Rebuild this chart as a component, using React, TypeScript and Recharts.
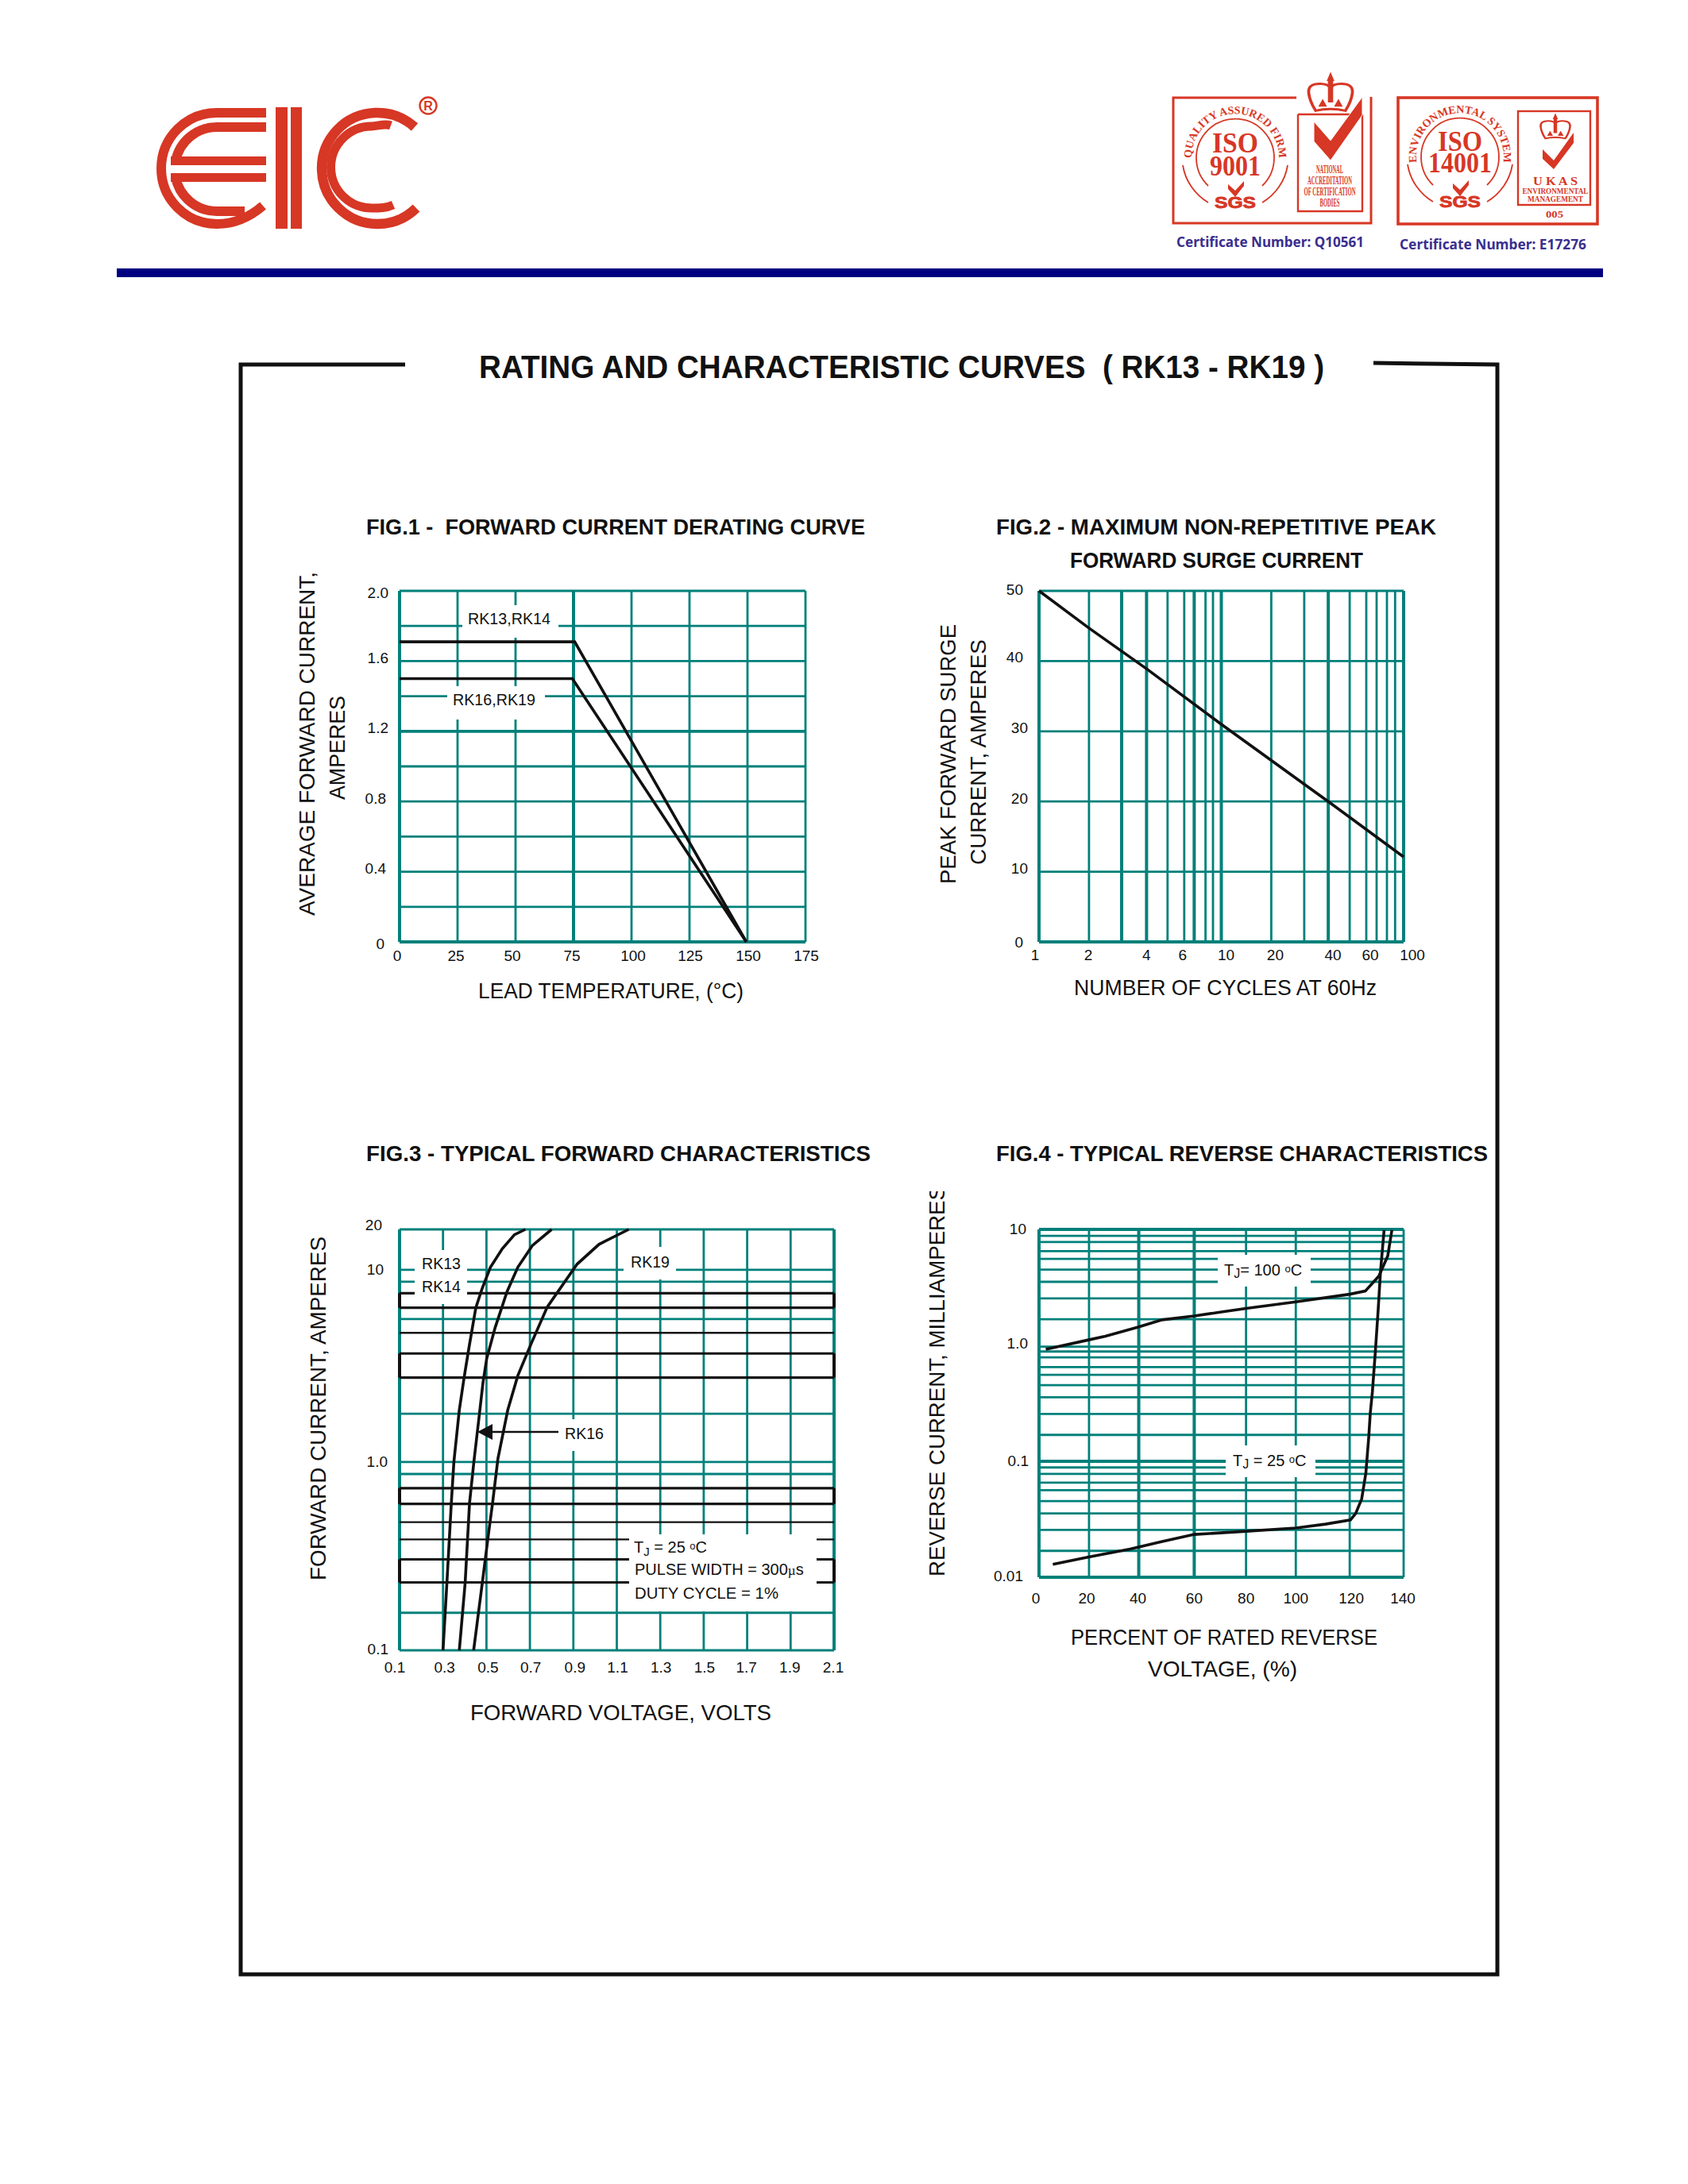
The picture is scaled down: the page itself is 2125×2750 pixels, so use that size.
import React from 'react';
import { LineChart, Line, XAxis, YAxis, ReferenceLine } from 'recharts';

const TEAL = '#00807a';
const RED = '#d73725';
const INK = '#111111';
const NAVY = '#000080';
const SANS = '"Liberation Sans", Arial, sans-serif';
const SERIF = '"Liberation Serif", "Times New Roman", serif';

// FIG.1
const fig1Temps = [0, 25, 50, 75, 100, 125, 150, 175];
const fig1Rows = [0, 0.2, 0.4, 0.6, 0.8, 1.0, 1.2, 1.4, 1.6, 1.8, 2.0];
const fig1AmpTicks = [0, 0.4, 0.8, 1.2, 1.6, 2.0];
const fig1AmpLabels = ['0', '0.4', '0.8', '1.2', '1.6', '2.0'];
const rk13Temps = [0, 75.5, 149.5];
const rk13Amps = [1.71, 1.71, 0];
const rk16Temps = [0, 74.5, 149.5];
const rk16Amps = [1.5, 1.5, 0];

// FIG.2 - the printed paper is not a true log ruling, so columns are read off the picture
const fig2Columns = [1, 1.88, 2.84, 3.89, 5.07, 6.26, 7.1, 8.19, 9, 10, 18.8, 28.5, 38.6, 50.6, 62.4, 71.1, 81, 89.8, 100];
const fig2CycleTicks = [1, 1.88, 3.89, 6.26, 10, 18.8, 38.6, 62.4, 100];
const fig2CycleLabels = ['1', '2', '4', '6', '10', '20', '40', '60', '100'];
const fig2Rows = [0, 10, 20, 30, 40, 50];
const surgeCycles = [1, 1.88, 3.89, 10, 38.6, 100];
const surgeAmps = [50, 44.7, 38.9, 31, 20, 12.1];

// FIG.3 - rows are as ruled on the paper, the top edge is labelled 20
const fig3Volts = [0.1, 0.3, 0.5, 0.7, 0.9, 1.1, 1.3, 1.5, 1.7, 1.9, 2.1];
const fig3TealRows = [0.1, 0.1575, 0.8447, 0.977, 1.752, 5.51, 8.65, 10, 16.3];
const fig3BlackRows = [0.3826, 0.4714, 4.66];
const fig3BlackBandLow = [0.2274, 0.5878, 2.713, 6.32];
const fig3BlackBandHigh = [0.3005, 0.7118, 3.63, 7.53];
const fig3AmpTicks = [0.1, 1, 10, 16.3];
const fig3AmpLabels = ['0.1', '1.0', '10', '20'];
const curve13Volts = [0.3, 0.318, 0.338, 0.35, 0.375, 0.397, 0.419, 0.451, 0.481, 0.518, 0.573, 0.629, 0.679];
const curve13Amps = [0.1, 0.227, 0.588, 0.977, 1.83, 2.71, 3.87, 6.32, 8.02, 10.3, 12.9, 15.3, 16.3];
const curve16Volts = [0.375, 0.402, 0.422, 0.442, 0.464, 0.484, 0.501, 0.54, 0.595, 0.644, 0.711, 0.8];
const curve16Amps = [0.1, 0.227, 0.593, 0.977, 1.61, 2.55, 3.41, 4.97, 7.69, 10.3, 13.4, 16.3];
const curve19Volts = [0.441, 0.481, 0.509, 0.528, 0.553, 0.598, 0.644, 0.707, 0.78, 0.917, 1.018, 1.155];
const curve19Amps = [0.1, 0.227, 0.407, 0.593, 1.02, 1.83, 2.77, 4.12, 6.38, 10.7, 13.6, 16.3];

// FIG.4
const fig4Columns = [0, 19.2, 38.3, 59.6, 79.5, 98.6, 119.3, 140];
const fig4PctLabels = ['0', '20', '40', '60', '80', '100', '120', '140'];
const fig4Rows = [
  0.01, 0.0169, 0.0256, 0.0355, 0.0453, 0.0564, 0.0655, 0.0778, 0.0885, 0.1, 0.169, 0.256, 0.357, 0.453,
  0.557, 0.65, 0.789, 0.885, 0.975, 1.68, 2.54, 3.53, 4.5, 5.57, 6.5, 7.78, 8.79, 10,
];
const fig4CurrentTicks = [0.01, 0.1, 1, 10];
const fig4CurrentLabels = ['0.01', '0.1', '1.0', '10'];
const hotPct = [2.6, 18.7, 25.5, 37.8, 47.3, 59.6, 70.5, 79.5, 98.6, 119.3, 125.3, 130.5, 133.9, 135.5];
const hotCurrent = [0.925, 1.11, 1.2, 1.43, 1.66, 1.79, 1.95, 2.08, 2.37, 2.76, 2.94, 3.96, 5.9, 9.87];
const coldPct = [5.3, 18.7, 35, 47.3, 59.6, 79.5, 98.6, 110, 119.6, 121.6, 123.9, 125.5, 126.6, 127.2, 128, 129.1, 130.2, 131.1, 132.5];
const coldCurrent = [0.0129, 0.0149, 0.0175, 0.0203, 0.0234, 0.0249, 0.0266, 0.0287, 0.0312, 0.0355, 0.0474, 0.0792, 0.161, 0.261, 0.396, 0.857, 1.98, 4.28, 9.87];

const zip = (xs: number[], ys: number[]) => xs.map((x, i) => ({ x, y: ys[i] }));

const PAD = { left: 100, right: 40, top: 30, bottom: 60 };

// tick text, nudged by hand because the original labels do not sit exactly on their rulings
const paperTick = (ticks: number[], labels: string[], nudges: number[][], anchor: string) => (p: any) => {
  const i = ticks.indexOf(p.payload.value);
  if (i < 0) return <g />;
  return (
    <text
      x={p.x + nudges[i][0]}
      y={p.y + nudges[i][1]}
      textAnchor={anchor}
      dominantBaseline="central"
      fontFamily={SANS}
      fontSize={19}
      fill={INK}
    >
      {labels[i]}
    </text>
  );
};

const Plot = ({ left, top, width, height, children }: any) => (
  <div style={{ position: 'absolute', left: left - PAD.left, top: top - PAD.top }}>
    <LineChart
      width={width + PAD.left + PAD.right}
      height={height + PAD.top + PAD.bottom}
      margin={{ top: PAD.top, right: PAD.right, bottom: 0, left: 0 }}
    >
      {children}
    </LineChart>
  </div>
);

const rows = (values: number[], thick: number[] = [], color = TEAL, base = 2.8) =>
  values.map((v) => (
    <ReferenceLine key={'r' + v} y={v} stroke={color} strokeWidth={thick.includes(v) ? 3.8 : base} />
  ));

const cols = (values: number[], thick: number[] = []) =>
  values.map((v) => (
    <ReferenceLine key={'c' + v} x={v} stroke={TEAL} strokeWidth={thick.includes(v) ? 4 : 2.8} />
  ));

const curve = (xs: number[], ys: number[], key: string) => (
  <Line
    key={key}
    data={zip(xs, ys)}
    dataKey="y"
    type="linear"
    stroke={INK}
    strokeWidth={3.6}
    dot={false}
    isAnimationActive={false}
  />
);

const Patch = ({ x1, x2, y1, y2 }: any) => <rect x={x1} y={y1} width={x2 - x1} height={y2 - y1} fill="#ffffff" />;

const Txt = ({ x, y, w, size = 20, bold, fill = INK, family = SANS, anchor, children }: any) => (
  <text
    x={x}
    y={y}
    fontFamily={family}
    fontSize={size}
    fontWeight={bold ? 700 : 400}
    fill={fill}
    textAnchor={anchor}
    textLength={w}
    lengthAdjust={w ? 'spacingAndGlyphs' : undefined}
    style={{ whiteSpace: 'pre' }}
  >
    {children}
  </text>
);

const VertText = ({ x, bottom, len, label, size = 28, clip }: any) => (
  <g clipPath={clip}>
    <text
      transform={`translate(${x} ${bottom}) rotate(-90)`}
      fontFamily={SANS}
      fontSize={size}
      fill={INK}
      textLength={len}
      lengthAdjust="spacingAndGlyphs"
    >
      {label}
    </text>
  </g>
);

const Crown = ({ x, y, sx, sy }: any) => (
  <g transform={`translate(${x} ${y}) scale(${sx} ${sy})`} fill="#fff" stroke={RED} strokeWidth={3.4}>
    <path d="M-25 -6 Q-26 -19 -12 -19 Q-3 -19 0 -13 Q3 -19 12 -19 Q26 -19 25 -6 Q24 6 17 20 Q0 15 -17 20 Q-24 6 -25 -6 Z" />
    <path d="M-3 -24 H3 V8 H-3 Z" fill={RED} stroke="none" />
    <path d="M0 -33 L3 -24 H-3 Z" fill={RED} stroke={RED} strokeWidth={2} />
    <path d="M-14 14 L-9 3 L-4 14 Z M4 14 L9 3 L14 14 Z" fill={RED} stroke="none" />
  </g>
);

const Seal = ({ cx, cy, ring, line1, line2, w1, w2, base1, base2 }: any) => (
  <g>
    <path
      d={`M ${cx - 34} ${cy + 36} A 49 49 0 1 1 ${cx + 34} ${cy + 36}`}
      fill="none"
      stroke={RED}
      strokeWidth={1.8}
    />
    <path d={`M ${cx - 66} ${cy + 10} A 67 67 0 0 0 ${cx - 34} ${cy + 57}`} fill="none" stroke={RED} strokeWidth={1.8} />
    <path d={`M ${cx + 66} ${cy + 10} A 67 67 0 0 1 ${cx + 34} ${cy + 57}`} fill="none" stroke={RED} strokeWidth={1.8} />
    <path id={`ring${cx}`} d={`M ${cx - 53} ${cy + 15} A 55 55 0 1 1 ${cx + 53} ${cy + 15}`} fill="none" />
    <text fontFamily={SERIF} fontWeight={700} fontSize={14} fill={RED} textAnchor="middle">
      <textPath href={`#ring${cx}`} startOffset="50%">
        {ring}
      </textPath>
    </text>
    <Txt x={cx} y={base1} w={w1} size={36} bold fill={RED} family={SERIF} anchor="middle">
      {line1}
    </Txt>
    <Txt x={cx} y={base2} w={w2} size={36} bold fill={RED} family={SERIF} anchor="middle">
      {line2}
    </Txt>
    <path
      d={`M ${cx - 9} ${cy + 34} L ${cx} ${cy + 42} L ${cx + 11} ${cy + 30} V ${cy + 36} L ${cx} ${cy + 50} L ${cx - 9} ${cy + 40} Z`}
      fill={RED}
    />
    <text
      x={cx}
      y={cy + 64}
      textAnchor="middle"
      fontFamily={SANS}
      fontWeight={700}
      fontSize={20}
      fill={RED}
      stroke={RED}
      strokeWidth={0.8}
      textLength={52}
      lengthAdjust="spacingAndGlyphs"
    >
      SGS
    </text>
  </g>
);

const Letterhead = () => (
  <g>
    {/* E */}
    <g fill="none" stroke={RED}>
      <path d="M335 142 H273 A70 70 0 1 0 273 282 C296 282 316 272 331 259" strokeWidth={12} />
      <path d="M335 160 H273 A53 53 0 0 0 221 203" strokeWidth={12} />
      <path d="M221 223 A53 53 0 0 0 273 266 H308" strokeWidth={12} />
    </g>
    <rect x={215} y={197} width={120} height={11} fill={RED} />
    <rect x={215} y={218} width={120} height={11} fill={RED} />
    {/* I */}
    <rect x={347} y={135} width={15} height={153} fill={RED} />
    <rect x={366} y={135} width={14} height={153} fill={RED} />
    {/* C */}
    <g fill="none" stroke={RED}>
      <path d="M522 160 A70 70 0 1 0 524 262" strokeWidth={12.5} />
      <path d="M492 158 C484 155 476 159 468 159 A51 51 0 0 0 468 262 C478 262 486 262 495 258" strokeWidth={11} />
    </g>
    <circle cx={539} cy={133} r={10.5} fill="none" stroke={RED} strokeWidth={2.4} />
    <Txt x={539} y={139} size={16} bold fill={RED} anchor="middle">
      R
    </Txt>

    {/* ISO 9001 */}
    <path d="M1632 123 H1477 V281 H1726 V122" fill="none" stroke={RED} strokeWidth={3} />
    <Seal cx={1555} cy={198} ring="QUALITY ASSURED FIRM" line1="ISO" line2="9001" w1={58} w2={64} base1={192} base2={221} />
    <path d="M1634 144 H1713 M1634 144 V266 H1715 V144" fill="none" stroke={RED} strokeWidth={2.4} />
    <Crown x={1675} y={122} sx={1.1} sy={0.87} />
    <path d="M1654 153 L1675 177 L1715 122 V145 L1675 202 L1654 178 Z" fill={RED} stroke="#fff" strokeWidth={1} />
    <Txt x={1674} y={218} w={34} size={14} bold fill={RED} family={SERIF} anchor="middle">NATIONAL</Txt>
    <Txt x={1674} y={232} w={56} size={14} bold fill={RED} family={SERIF} anchor="middle">ACCREDITATION</Txt>
    <Txt x={1674} y={246} w={65} size={14} bold fill={RED} family={SERIF} anchor="middle">OF CERTIFICATION</Txt>
    <Txt x={1674} y={260} w={25} size={14} bold fill={RED} family={SERIF} anchor="middle">BODIES</Txt>

    {/* ISO 14001 */}
    <rect x={1760} y={123} width={251} height={159} fill="none" stroke={RED} strokeWidth={3.6} />
    <Seal cx={1838} cy={197} ring="ENVIRONMENTAL SYSTEM" line1="ISO" line2="14001" w1={56} w2={80} base1={190} base2={217} />
    <rect x={1911} y={140} width={91} height={118} fill="none" stroke={RED} strokeWidth={2.4} />
    <Crown x={1958} y={163} sx={0.74} sy={0.57} />
    <path d="M1942 188 L1956 202 L1981 167 V180 L1956 213 L1942 200 Z" fill={RED} />
    <Txt x={1958} y={233} w={56} size={14} bold fill={RED} family={SERIF} anchor="middle">U K A S</Txt>
    <Txt x={1958} y={244} w={83} size={10} bold fill={RED} family={SERIF} anchor="middle">ENVIRONMENTAL</Txt>
    <Txt x={1958} y={254} w={70} size={10} bold fill={RED} family={SERIF} anchor="middle">MANAGEMENT</Txt>
    <Txt x={1957} y={274} w={22} size={12} bold fill={RED} family={SERIF} anchor="middle">005</Txt>

    <Txt x={1481} y={311} w={236} size={18} bold fill="#3a2f8f" family='"Noto Sans", sans-serif'>Certificate Number: Q10561</Txt>
    <Txt x={1762} y={314} w={235} size={18} bold fill="#3a2f8f" family='"Noto Sans", sans-serif'>Certificate Number: E17276</Txt>

    <rect x={147} y={338} width={1871} height={11} fill={NAVY} />
  </g>
);

const Annotations = () => (
  <svg width={2125} height={2750} style={{ position: 'absolute', left: 0, top: 0 }}>
    <defs>
      <clipPath id="fig4YClip">
        <rect x={1150} y={1500} width={60} height={520} />
      </clipPath>
    </defs>

    <Letterhead />

    {/* outer frame */}
    <path d="M510 459 H303 V2486 H1885 V459 L1729 457" fill="none" stroke={INK} strokeWidth={5} />
    <Txt x={603} y={476} w={1064} size={41} bold>RATING AND CHARACTERISTIC CURVES  ( RK13 - RK19 )</Txt>

    {/* FIG.1 */}
    <Txt x={461} y={673} w={628} size={28} bold>FIG.1 -  FORWARD CURRENT DERATING CURVE</Txt>
    <Patch x1={582} x2={703} y1={762} y2={803} />
    <Txt x={589} y={786} w={104}>RK13,RK14</Txt>
    <Patch x1={563} x2={686} y1={864} y2={906} />
    <Txt x={570} y={888} w={104}>RK16,RK19</Txt>
    <VertText x={396} bottom={1153} len={433} label="AVERAGE FORWARD CURRENT," />
    <VertText x={434} bottom={1007} len={131} label="AMPERES" />
    <Txt x={602} y={1257} w={334} size={28}>LEAD TEMPERATURE, (°C)</Txt>

    {/* FIG.2 */}
    <Txt x={1254} y={673} w={554} size={28} bold>FIG.2 - MAXIMUM NON-REPETITIVE PEAK</Txt>
    <Txt x={1347} y={715} w={369} size={28} bold>FORWARD SURGE CURRENT</Txt>
    <VertText x={1203} bottom={1113} len={327} label="PEAK FORWARD SURGE" />
    <VertText x={1241} bottom={1089} len={284} label="CURRENT, AMPERES" />
    <Txt x={1352} y={1253} w={381} size={28}>NUMBER OF CYCLES AT 60Hz</Txt>

    {/* FIG.3 */}
    <Txt x={461} y={1462} w={635} size={28} bold>FIG.3 - TYPICAL FORWARD CHARACTERISTICS</Txt>
    <Patch x1={522} x2={588} y1={1574} y2={1642} />
    <Txt x={531} y={1598} w={49}>RK13</Txt>
    <Txt x={531} y={1627} w={49}>RK14</Txt>
    <Patch x1={785} x2={851} y1={1570} y2={1611} />
    <Txt x={794} y={1596} w={49}>RK19</Txt>
    <Patch x1={704} x2={765} y1={1787} y2={1827} />
    <Txt x={711} y={1812} w={49}>RK16</Txt>
    <path d="M620 1803 H703" stroke={INK} strokeWidth={2.4} />
    <path d="M601 1803 L620 1793 V1813 Z" fill={INK} />
    <Patch x1={792} x2={1028} y1={1932} y2={2029} />
    <text x={798} y={1955} fontFamily={SANS} fontSize={20} fill={INK}>
      T
      <tspan dy={4} fontSize={15}>J</tspan>
      <tspan dy={-4}> = 25 </tspan>
      <tspan dy={-4} fontSize={13}>o</tspan>
      <tspan dy={4}>C</tspan>
    </text>
    <text x={799} y={1983} fontFamily={SANS} fontSize={20} fill={INK}>
      PULSE WIDTH = 300
      <tspan fontFamily={SERIF} fontSize={17}>µ</tspan>s
    </text>
    <Txt x={799} y={2013} w={181}>DUTY CYCLE = 1%</Txt>
    <VertText x={410} bottom={1990} len={433} label="FORWARD CURRENT, AMPERES" />
    <Txt x={592} y={2166} w={379} size={28}>FORWARD VOLTAGE, VOLTS</Txt>

    {/* FIG.4 */}
    <Txt x={1254} y={1462} w={619} size={28} bold>FIG.4 - TYPICAL REVERSE CHARACTERISTICS</Txt>
    <Patch x1={1533} x2={1650} y1={1580} y2={1620} />
    <text x={1541} y={1606} fontFamily={SANS} fontSize={20} fill={INK}>
      T
      <tspan dy={3} fontSize={16}>J</tspan>
      <tspan dy={-3}>= 100 </tspan>
      <tspan dy={-4} fontSize={13}>o</tspan>
      <tspan dy={4}>C</tspan>
    </text>
    <Patch x1={1543} x2={1656} y1={1820} y2={1860} />
    <text x={1552} y={1846} fontFamily={SANS} fontSize={20} fill={INK}>
      T
      <tspan dy={3} fontSize={16}>J</tspan>
      <tspan dy={-3}> = 25 </tspan>
      <tspan dy={-4} fontSize={13}>o</tspan>
      <tspan dy={4}>C</tspan>
    </text>
    <VertText x={1189} bottom={1985} len={492} label="REVERSE CURRENT, MILLIAMPERES" clip="url(#fig4YClip)" />
    <Txt x={1348} y={2071} w={386} size={28}>PERCENT OF RATED REVERSE</Txt>
    <Txt x={1445} y={2111} w={188} size={28}>VOLTAGE, (%)</Txt>
  </svg>
);

export default function App() {
  return (
    <div style={{ position: 'absolute', left: 0, top: 0, width: 2125, height: 2750, background: '#ffffff', overflow: 'hidden' }}>
      <Plot left={503} top={744} width={511} height={442}>
        <XAxis
          type="number"
          dataKey="x"
          domain={[0, 175]}
          ticks={fig1Temps}
          interval={0}
          height={PAD.bottom}
          axisLine={false}
          tickLine={false}
          tickSize={0}
          tickMargin={0}
          tick={paperTick(fig1Temps, fig1Temps.map(String), [[-3, 17], [-2, 17], [-4, 17], [-2, 17], [2, 17], [1, 17], [1, 17], [1, 17]], 'middle')}
        />
        <YAxis
          type="number"
          domain={[0, 2]}
          ticks={fig1AmpTicks}
          interval={0}
          width={PAD.left}
          axisLine={false}
          tickLine={false}
          tickSize={0}
          tickMargin={0}
          tick={paperTick(fig1AmpTicks, fig1AmpLabels, [[-19, 2], [-17, -4], [-17, -4], [-14, -4], [-14, -4], [-14, 2]], 'end')}
        />
        {rows(fig1Rows, [0, 1.2])}
        {cols(fig1Temps, [0, 75])}
        {curve(rk13Temps, rk13Amps, 'rk13')}
        {curve(rk16Temps, rk16Amps, 'rk16')}
      </Plot>

      <Plot left={1308} top={744} width={459} height={442}>
        <XAxis
          type="number"
          dataKey="x"
          scale="log"
          domain={[1, 100]}
          ticks={fig2CycleTicks}
          interval={0}
          height={PAD.bottom}
          axisLine={false}
          tickLine={false}
          tickSize={0}
          tickMargin={0}
          tick={paperTick(fig2CycleTicks, fig2CycleLabels, [[-5, 16], [-1, 16], [0, 16], [-2, 16], [6, 16], [5, 16], [6, 16], [5, 16], [11, 16]], 'middle')}
        />
        <YAxis
          type="number"
          domain={[0, 50]}
          ticks={fig2Rows}
          interval={0}
          width={PAD.left}
          axisLine={false}
          tickLine={false}
          tickSize={0}
          tickMargin={0}
          tick={paperTick(fig2Rows, fig2Rows.map(String), [[-20, 0], [-14, -4], [-14, -4], [-14, -4], [-20, -5], [-20, -2]], 'end')}
        />
        {rows(fig2Rows, [0])}
        {cols(fig2Columns, [1, 2.84, 3.89, 7.1, 10, 38.6, 100])}
        {curve(surgeCycles, surgeAmps, 'surge')}
      </Plot>

      <Plot left={503} top={1548} width={547} height={530}>
        <XAxis
          type="number"
          dataKey="x"
          domain={[0.1, 2.1]}
          ticks={fig3Volts}
          interval={0}
          height={PAD.bottom}
          axisLine={false}
          tickLine={false}
          tickSize={0}
          tickMargin={0}
          tick={paperTick(fig3Volts, fig3Volts.map((v) => v.toFixed(1)), [[-6, 21], [2, 21], [2, 21], [1, 21], [2, 21], [1, 21], [1, 21], [1, 21], [-1, 21], [-1, 21], [-1, 21]], 'middle')}
        />
        <YAxis
          type="number"
          scale="log"
          domain={[0.1, 16.3]}
          ticks={fig3AmpTicks}
          interval={0}
          width={PAD.left}
          axisLine={false}
          tickLine={false}
          tickSize={0}
          tickMargin={0}
          tick={paperTick(fig3AmpTicks, fig3AmpLabels, [[-14, -2], [-15, 2], [-20, 0], [-22, -6]], 'end')}
        />
        {rows(fig3TealRows)}
        {cols(fig3Volts, [0.1, 2.1])}
        {rows(fig3BlackRows, [], INK, 2.4)}
        {rows(fig3BlackBandLow, [], INK, 3.2)}
        {rows(fig3BlackBandHigh, [], INK, 3.2)}
        {/* the black bands are closed at both ends, just outside the plot */}
        {fig3BlackBandLow.flatMap((low, i) =>
          [0.1, 2.1].map((edge) => (
            <ReferenceLine
              key={'cap' + low + edge}
              segment={[{ x: edge, y: low }, { x: edge, y: fig3BlackBandHigh[i] }]}
              stroke={INK}
              strokeWidth={4}
              ifOverflow="visible"
            />
          ))
        )}
        {curve(curve13Volts, curve13Amps, 'c13')}
        {curve(curve16Volts, curve16Amps, 'c16')}
        {curve(curve19Volts, curve19Amps, 'c19')}
      </Plot>

      <Plot left={1308} top={1548} width={459} height={438}>
        <XAxis
          type="number"
          dataKey="x"
          domain={[0, 140]}
          ticks={fig4Columns}
          interval={0}
          height={PAD.bottom}
          axisLine={false}
          tickLine={false}
          tickSize={0}
          tickMargin={0}
          tick={paperTick(fig4Columns, fig4PctLabels, [[-4, 26], [-3, 26], [-1, 26], [0, 26], [0, 26], [0, 26], [2, 26], [-1, 26]], 'middle')}
        />
        <YAxis
          type="number"
          scale="log"
          domain={[0.01, 10]}
          ticks={fig4CurrentTicks}
          interval={0}
          width={PAD.left}
          axisLine={false}
          tickLine={false}
          tickSize={0}
          tickMargin={0}
          tick={paperTick(fig4CurrentTicks, fig4CurrentLabels, [[-20, -2], [-13, -1], [-14, -3], [-16, -1]], 'end')}
        />
        {rows(fig4Rows, [0.01, 10, 0.1])}
        {cols(fig4Columns, [0, 38.3, 59.6])}
        {curve(hotPct, hotCurrent, 'hot')}
        {curve(coldPct, coldCurrent, 'cold')}
      </Plot>

      <Annotations />
    </div>
  );
}
